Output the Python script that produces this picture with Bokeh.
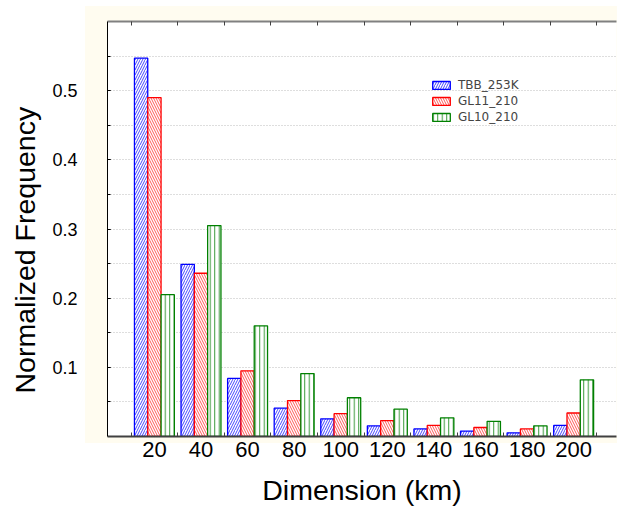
import numpy as np
from bokeh.plotting import figure
from bokeh.models import (ColumnDataSource, FixedTicker, LinearAxis, Range1d,
                          Legend, LegendItem, Title)
from bokeh.transform import dodge
from bokeh.embed import file_html
from bokeh.resources import INLINE

# ---- data ----
categories = ["20", "40", "60", "80", "100", "120", "140", "160", "180", "200"]
tbb_253k = [0.547, 0.249, 0.084, 0.041, 0.0255, 0.0155, 0.011, 0.0078, 0.0053, 0.016]
gl11_210 = [0.490, 0.236, 0.095, 0.052, 0.033, 0.023, 0.016, 0.013, 0.011, 0.034]
gl10_210 = [0.205, 0.305, 0.160, 0.091, 0.056, 0.0395, 0.027, 0.022, 0.0155, 0.082]
series_names = ["TBB_253K", "GL11_210", "GL10_210"]
y_ticks = [0.1, 0.2, 0.3, 0.4, 0.5]
y_minor = [0.05, 0.10, 0.15, 0.20, 0.25, 0.30, 0.35, 0.40, 0.45, 0.50, 0.55]

idx = list(range(len(categories)))
boundaries = [i - 0.5 for i in range(len(categories) + 1)]
src = ColumnDataSource(dict(x=idx, tbb=tbb_253k, gl11=gl11_210, gl10=gl10_210))

FONT = "Liberation Sans"
W, H = 617, 512

p = figure(width=W, height=H, output_backend="svg", toolbar_location=None,
           x_range=Range1d(-1.007, 9.92), y_range=Range1d(0, 0.6),
           min_border_left=107, min_border_right=1, min_border_top=21,
           min_border_bottom=76, border_fill_alpha=0,
           background_fill_color="white", outline_line_color=None)

# cream panel behind the chart (page styling)
p.styles = {
    "background-color": "white",
    "background-image": "linear-gradient(#FFFCF0, #FFFCF0)",
    "background-size": "532px 437px",
    "background-position": "85px 6px",
    "background-repeat": "no-repeat",
}

w = 0.2857
r1 = p.vbar(x=dodge('x', -w), top='tbb', width=w, source=src,
            fill_color="white", line_color="#0000FF", line_width=1.3,
            hatch_pattern="/", hatch_color="#4848FF", hatch_scale=5, hatch_weight=1)
r2 = p.vbar(x=dodge('x', 0), top='gl11', width=w, source=src,
            fill_color="white", line_color="#FF0000", line_width=1.3,
            hatch_pattern="\\", hatch_color="#FF5A5A", hatch_scale=5, hatch_weight=1)
r3 = p.vbar(x=dodge('x', w), top='gl10', width=w, source=src,
            fill_color="white", line_color="#008000", line_width=1.3,
            hatch_pattern="|", hatch_color="#3A9A3A", hatch_scale=4.5, hatch_weight=1)

# x axis (bottom)
xa = p.xaxis[0]
xa.ticker = FixedTicker(ticks=idx, minor_ticks=boundaries)
xa.major_label_overrides = {i: c for i, c in enumerate(categories)}
xa.major_tick_in = 0
xa.major_tick_out = 0
xa.minor_tick_in = 4
xa.minor_tick_out = 0
xa.minor_tick_line_color = "#404040"
xa.axis_line_color = "#404040"
xa.axis_line_width = 2
xa.major_label_text_font = FONT
xa.major_label_text_font_size = "22px"
xa.major_label_text_color = "black"
xa.major_label_standoff = 5
xa.axis_label = "Dimension (km)"
xa.axis_label_text_font = FONT
xa.axis_label_text_font_size = "28.5px"
xa.axis_label_text_font_style = "normal"
xa.axis_label_text_color = "black"
xa.axis_label_standoff = 14

# top axis (ticks only)
top = LinearAxis(ticker=FixedTicker(ticks=[], minor_ticks=boundaries),
                 major_label_text_font_size="0px", major_tick_in=0, major_tick_out=0,
                 minor_tick_in=4, minor_tick_out=0, minor_tick_line_color="#404040",
                 axis_line_color="#808080", axis_line_width=2, major_label_standoff=0)
p.add_layout(top, "above")

# y axis
ya = p.yaxis[0]
ya.ticker = FixedTicker(ticks=y_ticks, minor_ticks=y_minor)
ya.major_tick_in = 3
ya.major_tick_out = 0
ya.minor_tick_in = 3
ya.minor_tick_out = 0
ya.axis_line_color = "black"
ya.major_label_text_font = FONT
ya.major_label_text_font_size = "18px"
ya.major_label_text_color = "black"
ya.major_label_standoff = 30

# y axis title (placed like the reference, slightly below centre)
ytitle = Title(text="Normalized Frequency", align="left", offset=36,
               vertical_align="top", padding=7,
               text_font=FONT, text_font_size="28.5px", text_font_style="normal",
               text_color="black", standoff=0)
p.add_layout(ytitle, "left")

# grid
p.xgrid.visible = False
p.ygrid.ticker = FixedTicker(ticks=y_minor)
p.ygrid.grid_line_color = "#BDBDBD"
p.ygrid.grid_line_dash = "1 2"
p.ygrid.grid_line_width = 1

# legend
legend = Legend(items=[LegendItem(label=n, renderers=[r])
                       for n, r in zip(series_names, [r1, r2, r3])],
                location=(323, 312), orientation="vertical", padding=0, margin=0,
                spacing=2, glyph_width=22, glyph_height=10, label_height=10,
                label_standoff=6, border_line_color=None, background_fill_alpha=0,
                label_text_font="DejaVu Sans", label_text_font_size="12px")
p.add_layout(legend)

open("out.html", "w").write(file_html(p, INLINE))
